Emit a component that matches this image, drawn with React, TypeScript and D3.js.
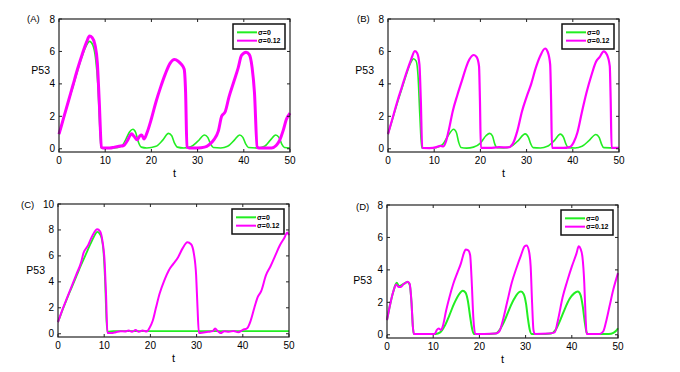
import React from 'react';
import * as d3 from 'd3';

type Pt = [number, number];

// t, P53 pairs
const greenA: Pt[] = [[0,0.9],[1,1.9],[2,2.9],[3,3.8],[4,4.8],[5,5.7],[6,6.4],[6.6,6.62],[7.3,6.4],[7.9,5.6],[8.4,4],[8.8,1.5],[9.1,0.05],[10,0.04],[12,0.05],[13.5,0.15],[14.5,0.6],[15.3,1.05],[16,1.2],[16.6,1.0],[17.2,0.4],[17.8,0.1],[19,0.05],[21,0.15],[22.5,0.55],[23.7,0.95],[24.4,0.8],[25,0.35],[25.6,0.1],[27,0.05],[28.5,0.12],[30,0.45],[31.5,0.85],[32.2,0.7],[32.8,0.3],[33.4,0.08],[35,0.05],[36.5,0.15],[38,0.55],[39.1,0.85],[39.8,0.7],[40.4,0.3],[41,0.08],[43,0.05],[44.5,0.15],[45.8,0.55],[46.9,0.85],[47.6,0.7],[48.2,0.3],[48.8,0.08],[50,0.05]];
const magentaA: Pt[] = [[0,0.9],[1,1.9],[2,2.9],[3,3.9],[4,4.9],[5,5.8],[6,6.6],[6.6,6.95],[7.2,6.85],[7.8,6.4],[8.3,5.3],[8.7,3],[9.2,0.1],[9.5,0.05],[11,0.05],[12,0.1],[13,0.15],[14,0.2],[14.8,0.5],[15.7,0.92],[16.3,0.75],[16.9,0.55],[17.5,0.8],[17.9,0.85],[18.4,0.6],[19,0.95],[20,1.85],[21,2.9],[22,3.8],[23,4.6],[24,5.25],[25,5.5],[25.8,5.4],[26.5,5.2],[27.1,4.9],[27.4,3.5],[27.7,0.1],[28.2,0.05],[30,0.05],[31.5,0.1],[32.5,0.25],[33.5,0.55],[34.5,1.1],[35.2,2.0],[36,2.3],[36.8,3.2],[37.8,4.1],[38.8,5.0],[39.5,5.75],[40.5,5.95],[41.2,5.8],[41.8,5.0],[42.3,3.5],[42.9,0.1],[43.3,0.05],[46,0.05],[47,0.2],[47.8,0.55],[48.5,1.1],[49.2,1.8],[50,2.2]];

const greenB: Pt[] = [[0,0.9],[1,1.85],[2,2.8],[3,3.7],[4,4.6],[5,5.35],[5.5,5.55],[6.1,5.4],[6.5,4.5],[6.9,2],[7.3,0.05],[9,0.04],[10.5,0.08],[11.8,0.25],[13,0.8],[14.2,1.2],[14.8,1.0],[15.3,0.4],[15.8,0.08],[17,0.04],[18.5,0.1],[20,0.35],[21.2,0.8],[22,0.95],[22.6,0.8],[23.1,0.3],[23.6,0.06],[25,0.05],[26.5,0.12],[28,0.45],[29.7,0.92],[30.4,0.7],[30.9,0.3],[31.4,0.07],[33,0.05],[34.5,0.15],[36,0.5],[37.3,0.9],[38,0.7],[38.5,0.3],[39,0.07],[40.5,0.05],[42,0.15],[43.5,0.5],[45,0.88],[45.7,0.7],[46.2,0.3],[46.7,0.07],[50,0.05]];
const magentaB: Pt[] = [[0,0.9],[1,1.9],[2,2.9],[3,3.8],[4,4.7],[5,5.5],[5.8,6.02],[6.3,5.9],[6.8,5.2],[7.1,3],[7.4,0.05],[9,0.04],[10.5,0.1],[11.3,0.18],[12,0.15],[12.6,0.5],[13.2,1.2],[14,2.3],[15,3.3],[16,4.2],[17,5.1],[17.6,5.5],[18.6,5.78],[19.2,5.65],[19.7,5.1],[19.9,3],[20.1,0.05],[22,0.05],[24,0.1],[26,0.08],[27,0.3],[28,1.1],[29,2.3],[30,3.2],[31,4.0],[32,5.0],[33,5.75],[34,6.18],[34.6,5.95],[35.1,5.2],[35.3,3],[35.5,0.05],[38,0.05],[39.3,0.1],[40.2,0.4],[41,1.0],[42,2.3],[43,3.5],[44,4.5],[45,5.35],[45.8,5.65],[46.7,6.0],[47.4,5.8],[48,5.1],[48.2,3],[48.4,0.05],[50,0.05]];

const greenC: Pt[] = [[0,0.9],[1,1.85],[2,2.75],[3,3.6],[4,4.45],[5,5.3],[6,6.1],[7,6.9],[7.8,7.5],[8.5,7.85],[9.2,7.6],[9.8,6.5],[10.2,4],[10.5,1],[10.7,0.15],[12,0.2],[50,0.2]];
const magentaC: Pt[] = [[0,0.9],[1,1.9],[2,2.8],[3,3.7],[4,4.6],[5,5.5],[5.5,6.2],[6.5,6.8],[7.5,7.6],[8.5,8.05],[9.1,7.9],[9.6,7.2],[10.1,5.5],[10.4,3],[10.7,0.05],[11.5,0.05],[12.5,0.12],[13.5,0.2],[14.5,0.18],[15.3,0.25],[16,0.15],[16.8,0.28],[17.5,0.15],[18.3,0.25],[19.2,0.18],[19.8,0.45],[20.5,1.0],[21.2,2.0],[22,3.1],[23,4.1],[24,4.9],[25,5.4],[26,5.9],[27,6.6],[28,7.05],[28.8,6.9],[29.4,6.2],[29.9,4.5],[30.2,2],[30.5,0.05],[31.5,0.1],[32.5,0.15],[33.5,0.2],[34,0.4],[34.6,0.2],[35.2,0.05],[36,0.2],[37,0.15],[38,0.22],[39,0.12],[40,0.3],[41,0.45],[41.7,1.0],[42.5,2.0],[43.2,2.8],[44,3.3],[45,4.5],[46,5.2],[47,6.0],[48,6.8],[49,7.4],[49.6,7.8],[50,7.6]];

const greenD: Pt[] = [[0,0.9],[0.7,1.9],[1.4,2.7],[2.1,3.2],[2.6,3.0],[3.1,3.05],[3.7,3.15],[4.4,3.25],[4.9,3.1],[5.3,2],[5.6,0.5],[5.8,0.05],[8,0.04],[10.5,0.05],[11.5,0.15],[12.5,0.55],[13.5,1.2],[14.5,1.9],[15.5,2.45],[16.4,2.72],[17,2.6],[17.5,2.1],[18,1.1],[18.4,0.4],[18.8,0.05],[21,0.04],[23.5,0.08],[24.5,0.35],[25.5,0.9],[26.5,1.6],[27.5,2.2],[28.3,2.55],[29,2.66],[29.6,2.5],[30.1,1.9],[30.5,1.0],[30.9,0.3],[31.3,0.05],[33,0.04],[35.5,0.08],[36.5,0.3],[37.5,0.9],[38.5,1.6],[39.5,2.2],[40.5,2.55],[41.3,2.66],[41.9,2.45],[42.4,1.7],[42.8,0.8],[43.2,0.15],[43.5,0.05],[46,0.04],[48,0.05],[49,0.12],[49.6,0.25],[50,0.4]];
const magentaD: Pt[] = [[0,0.9],[0.7,1.9],[1.4,2.7],[2,3.1],[2.5,2.95],[3,2.95],[3.5,3.1],[4,3.2],[4.5,3.27],[4.9,3.15],[5.3,2],[5.6,0.5],[5.8,0.05],[8,0.04],[10.3,0.05],[10.8,0.3],[11.2,0.38],[11.7,0.3],[12.1,0.55],[12.8,1.5],[13.5,2.3],[14.3,3.1],[15.2,3.8],[16,4.4],[16.6,5.0],[17,5.25],[17.6,5.2],[18,4.9],[18.3,3.5],[18.7,1],[19.1,0.05],[21,0.05],[23.5,0.07],[24.3,0.2],[25,0.8],[26,2.0],[27,3.2],[28,4.1],[29,4.9],[29.8,5.45],[30.2,5.5],[30.7,5.2],[31.1,4.2],[31.4,2],[31.7,0.3],[32,0.05],[35,0.08],[36.3,0.15],[37,0.9],[38,2.3],[39,3.3],[40,4.2],[41,5.0],[41.5,5.45],[41.9,5.3],[42.3,4.8],[42.7,3.2],[43,1],[43.2,0.05],[46,0.05],[46.8,0.2],[47.5,0.9],[48.2,1.8],[49,2.8],[50,3.8]];

const xTicks = [0, 10, 20, 30, 40, 50];
const yTicks8 = [0, 2, 4, 6, 8];
const yTicks10 = [0, 2, 4, 6, 8, 10];
const legendLabels = ['\u03c3=0', '\u03c3=0.12'];
const GREEN = '#22ee22';
const MAGENTA = '#ff00ff';
const FONT = 'Arial, "Liberation Sans", Helvetica, sans-serif';

const W = 231, H = 133;

// p53y is the page y of the "P53" label centre
const panels = [
  { id: '(A)', left: 59, top: 19, ymax: 8, yticks: yTicks8, green: greenA, mag: magentaA, gw: 1.6, mw: 3, labX: 27, labY: 22, p53dx: 9, p53y: 70 },
  { id: '(B)', left: 388, top: 19, ymax: 8, yticks: yTicks8, green: greenB, mag: magentaB, gw: 1.6, mw: 2.2, labX: 357, labY: 22, p53dx: 14, p53y: 70 },
  { id: '(C)', left: 58, top: 204, ymax: 10, yticks: yTicks10, green: greenC, mag: magentaC, gw: 1.8, mw: 2, labX: 21, labY: 208, p53dx: 13, p53y: 270 },
  { id: '(D)', left: 387, top: 205, ymax: 8, yticks: yTicks8, green: greenD, mag: magentaD, gw: 2, mw: 2, labX: 356, labY: 210, p53dx: 15, p53y: 280 },
];

function Panel({ p }: { p: typeof panels[number] }) {
  const x = d3.scaleLinear().domain([0, 50]).range([0, W]);
  const pad = p.ymax === 10 ? 0.25 : 0.2;
  const y = d3.scaleLinear().domain([-pad, p.ymax]).range([H, 0]);
  const line = d3.line<Pt>().x(d => x(d[0])).y(d => y(d[1])).curve(d3.curveMonotoneX);
  const tl = 3;
  const lx = 174, ly = 5, lw = 52, lh = 25;
  return (
    <g>
      <text x={p.labX} y={p.labY} fontSize={9.5} fontFamily={FONT}>{p.id}</text>
      <g transform={`translate(${p.left},${p.top})`}>
        <rect x={0} y={0} width={W} height={H} fill="white" />
        <path d={line(p.green) || ''} fill="none" stroke={GREEN} strokeWidth={p.gw} strokeLinejoin="round" />
        <path d={line(p.mag) || ''} fill="none" stroke={MAGENTA} strokeWidth={p.mw} strokeLinejoin="round" />
        {xTicks.map(t => (
          <g key={'x' + t}>
            <line x1={x(t)} x2={x(t)} y1={H} y2={H - tl} stroke="#222" />
            <line x1={x(t)} x2={x(t)} y1={0} y2={tl} stroke="#222" />
            <text x={x(t)} y={H + 12} fontSize={10} textAnchor="middle" fontFamily={FONT}>{t}</text>
          </g>
        ))}
        {p.yticks.map(t => (
          <g key={'y' + t}>
            <line x1={0} x2={tl} y1={y(t)} y2={y(t)} stroke="#222" />
            <line x1={W} x2={W - tl} y1={y(t)} y2={y(t)} stroke="#222" />
            <text x={-4} y={y(t) + 3.5} fontSize={10} textAnchor="end" fontFamily={FONT}>{t}</text>
          </g>
        ))}
        <rect x={0} y={0} width={W} height={H} fill="none" stroke="#222" strokeWidth={1.2} />
        <text x={W / 2} y={H + 25} fontSize={11} textAnchor="middle" fontFamily={FONT}>t</text>
        <text x={-p.p53dx} y={p.p53y - p.top + 4} fontSize={10.5} textAnchor="end" fontFamily={FONT}>P53</text>
        <g transform={`translate(${lx},${ly})`}>
          <rect x={0} y={0} width={lw} height={lh} fill="white" stroke="#111" strokeWidth={1.5} />
          {legendLabels.map((lab, i) => (
            <g key={lab}>
              <line x1={4} x2={24} y1={lh * (i + 1) / 3} y2={lh * (i + 1) / 3} stroke={i === 0 ? GREEN : MAGENTA} strokeWidth={2} />
              <text x={25} y={lh * (i + 1) / 3 + 2.5} fontSize={7} fontWeight="bold" fontFamily={FONT}>{lab}</text>
            </g>
          ))}
        </g>
      </g>
    </g>
  );
}

export default function App() {
  return (
    <svg width={680} height={372} style={{ position: 'absolute', left: 0, top: 0, background: 'white' }}>
      {panels.map(p => <Panel key={p.id} p={p} />)}
    </svg>
  );
}
